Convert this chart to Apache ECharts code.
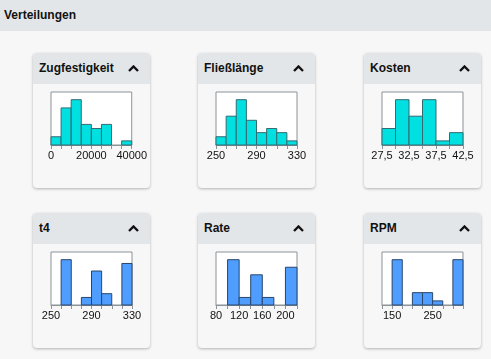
<!DOCTYPE html>
<html><head><meta charset="utf-8">
<script src="https://cdn.jsdelivr.net/npm/echarts@6/dist/echarts.min.js"></script>
<style>
html,body{margin:0;padding:0;width:491px;height:359px;overflow:hidden;background:#f7f7f7;font-family:"Liberation Sans",Arial,sans-serif;}
#top{position:absolute;left:0;top:0;width:491px;height:31px;background:#e3e6e9;}
#top span{position:absolute;left:4px;top:8px;font-weight:bold;font-size:12px;color:#111;}
.card{position:absolute;width:117px;height:135px;background:#f7f7f7;border-radius:4px;box-shadow:0 1px 3px rgba(0,0,0,0.28);overflow:hidden;}
.hdr{position:absolute;left:0;top:0;width:100%;height:31px;background:#e3e6e9;}
.hdr .t{position:absolute;left:6px;top:8px;font-weight:bold;font-size:12px;color:#111;}
.hdr svg{position:absolute;right:11px;top:12px;}
.ch{position:absolute;left:0;top:31px;width:117px;height:104px;}
</style></head>
<body>
<div id="top"><span>Verteilungen</span></div>
<div id="cards"></div>
<script>
const titles = ['Zugfestigkeit','Fließlänge','Kosten','t4','Rate','RPM'];

const zugStart = 0, zugWidth = 5000;
const zugCounts = [2,9,11,5,4,5,0,1];
const zugTicks = [0,20000,40000];

const fliesStart = 250, fliesWidth = 10;
const fliesCounts = [2,7,11,6,3,4,3,1];
const fliesTicks = [250,290,330];

const kostenStart = 27.5, kostenWidth = 2.5;
const kostenCounts = [4,11,7,11,1,3];
const kostenTicks = [27.5,32.5,37.5,42.5];

const t4Start = 250, t4Width = 10;
const t4Counts = [0,12,0,2,9,3,0,11];
const t4Ticks = [250,290,330];

const rateStart = 80, rateWidth = 20;
const rateCounts = [0,12,2,8,2,0,10];
const rateTicks = [80,120,160,200];

const rpmStart = 125, rpmWidth = 25;
const rpmCounts = [0,11,0,3,3,1,0,11];
const rpmTicks = [150,250];

const cyanFill = '#00e0e0', cyanStroke = '#336b72';
const blueFill = '#4f9dff', blueStroke = '#28466b';

const specs = [
  {start:zugStart,w:zugWidth,counts:zugCounts,ticks:zugTicks,fill:cyanFill,stroke:cyanStroke,x:33,y:53},
  {start:fliesStart,w:fliesWidth,counts:fliesCounts,ticks:fliesTicks,fill:cyanFill,stroke:cyanStroke,x:198,y:53},
  {start:kostenStart,w:kostenWidth,counts:kostenCounts,ticks:kostenTicks,fill:cyanFill,stroke:cyanStroke,x:364,y:53,comma:true},
  {start:t4Start,w:t4Width,counts:t4Counts,ticks:t4Ticks,fill:blueFill,stroke:blueStroke,x:33,y:213},
  {start:rateStart,w:rateWidth,counts:rateCounts,ticks:rateTicks,fill:blueFill,stroke:blueStroke,x:198,y:213},
  {start:rpmStart,w:rpmWidth,counts:rpmCounts,ticks:rpmTicks,fill:blueFill,stroke:blueStroke,x:364,y:213}
];

const container = document.getElementById('cards');
specs.forEach((s, i) => {
  const card = document.createElement('div');
  card.className = 'card';
  card.style.left = s.x + 'px';
  card.style.top = s.y + 'px';
  card.innerHTML = '<div class="hdr"><span class="t">' + titles[i] + '</span>' +
    '<svg width="11" height="7" viewBox="0 0 11 7"><polyline points="1,6 5.5,1.5 10,6" fill="none" stroke="#111" stroke-width="2.4"/></svg></div>' +
    '<div class="ch"></div>';
  container.appendChild(card);
  const chart = echarts.init(card.querySelector('.ch'), null, {renderer:'canvas'});
  const n = s.counts.length;
  const data = s.counts.map((c, k) => [s.start + k * s.w, s.start + (k + 1) * s.w, c]);
  const maxC = Math.max.apply(null, s.counts);
  chart.setOption({
    animation: false,
    grid: {left:18, right:18, top:8, height:53, show:true, backgroundColor:'#ffffff', borderColor:'#8c9399', borderWidth:1},
    xAxis: {
      type:'value', min:s.start, max:s.start + n * s.w, interval:s.w,
      splitLine:{show:false},
      axisLine:{show:true, lineStyle:{color:'#8c9399'}},
      axisTick:{show:true, length:4, lineStyle:{color:'#8c9399'}},
      axisLabel:{
        show:true, margin:5, fontSize:11, color:'#111', fontFamily:'Liberation Sans, Arial, sans-serif',
        showMinLabel:true, showMaxLabel:true, hideOverlap:false,
        formatter: v => {
          const hit = s.ticks.find(t => Math.abs(t - v) < 1e-6);
          if (hit === undefined) return '';
          let txt = String(hit);
          if (s.comma) txt = txt.replace('.', ',');
          return txt;
        }
      }
    },
    yAxis: {type:'value', min:0, max:maxC * 1.17, show:false, splitLine:{show:false}},
    series: [{
      type:'custom',
      data: data,
      encode: {x:[0,1], y:2},
      renderItem: (params, api) => {
        const c = api.value(2);
        if (!c) return null;
        const p0 = api.coord([api.value(0), 0]);
        const p1 = api.coord([api.value(1), c]);
        return {
          type:'rect',
          shape:{x:p0[0], y:p1[1], width:p1[0]-p0[0], height:p0[1]-p1[1]},
          style:{fill:s.fill, stroke:s.stroke, lineWidth:1}
        };
      }
    }]
  });
});
</script>
</body></html>
